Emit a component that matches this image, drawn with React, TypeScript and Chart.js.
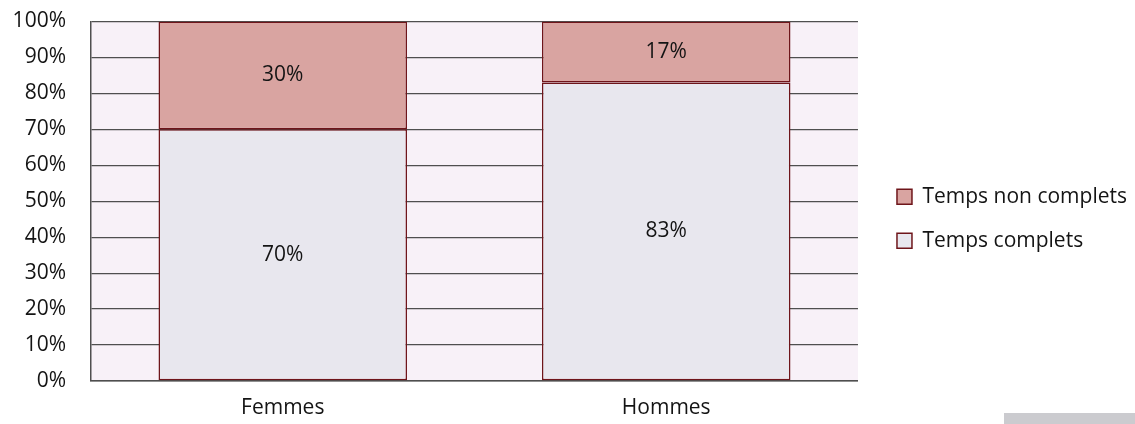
import React, { useEffect, useRef } from "react";
import { Chart, registerables } from "chart.js";

Chart.register(...registerables);

const categories = ["Femmes", "Hommes"];
const tempsComplets = [70, 83];
const tempsNonComplets = [30, 17];
const seriesNames = ["Temps complets", "Temps non complets"];

const FONT = "'Open Sans', 'DejaVu Sans', sans-serif";
const TEXT = "#141414";
const GRID = "#4f4f4f";
const EDGE = "#6e151a";

// light tinted background behind the plot area
const plotBackground = {
  id: "plotBackground",
  beforeDraw(chart: any) {
    const { ctx, chartArea } = chart;
    ctx.save();
    ctx.fillStyle = "#f8f1f8";
    ctx.fillRect(chartArea.left, chartArea.top, chartArea.right - chartArea.left, chartArea.bottom - chartArea.top);
    ctx.restore();
  },
};

// leave a wider gap between the plot and the legend
const legendOffset = {
  id: "legendOffset",
  afterLayout(chart: any) {
    const lg = chart.legend;
    if (!lg) return;
    lg.left += 16;
    lg.right += 16;
    lg.top -= 4;
    lg.bottom -= 4;
  },
};

// percentage written in the middle of every segment
const segmentLabels = {
  id: "segmentLabels",
  afterDatasetsDraw(chart: any) {
    const { ctx } = chart;
    ctx.save();
    ctx.font = `21px ${FONT}`;
    ctx.fillStyle = TEXT;
    ctx.textAlign = "center";
    ctx.textBaseline = "middle";
    chart.data.datasets.forEach((ds: any, i: number) => {
      const meta = chart.getDatasetMeta(i);
      meta.data.forEach((el: any, j: number) => {
        const { x, y, base } = el.getProps(["x", "y", "base"], true);
        ctx.fillText(`${ds.data[j]}%`, x, (y + base) / 2);
      });
    });
    ctx.restore();
  },
};

export default function App() {
  const ref = useRef<HTMLCanvasElement | null>(null);

  useEffect(() => {
    if (!ref.current) return;
    const chart = new Chart(ref.current, {
      type: "bar",
      data: {
        labels: categories,
        datasets: [
          {
            label: seriesNames[0],
            data: tempsComplets,
            backgroundColor: "#e8e7ee",
            borderColor: EDGE,
            borderWidth: 1.5,
            borderSkipped: false,
            categoryPercentage: 1,
            barPercentage: 0.648,
          },
          {
            label: seriesNames[1],
            data: tempsNonComplets,
            backgroundColor: "#d9a4a1",
            borderColor: EDGE,
            borderWidth: 1.5,
            borderSkipped: false,
            categoryPercentage: 1,
            barPercentage: 0.648,
          },
        ],
      },
      options: {
        animation: false,
        responsive: true,
        maintainAspectRatio: false,
        layout: { padding: { top: 21.5, left: 0, right: 14, bottom: 0 } },
        plugins: {
          tooltip: { enabled: false },
          legend: {
            position: "right",
            reverse: true,
            labels: {
              boxWidth: 15,
              boxHeight: 15,
              padding: 23,
              color: TEXT,
              font: { family: FONT, size: 21 },
            },
          },
        },
        scales: {
          x: {
            stacked: true,
            grid: { display: false, drawTicks: false },
            border: { display: true, color: GRID, width: 1.5 },
            ticks: { color: TEXT, font: { family: FONT, size: 21 }, padding: 14 },
            afterFit(scale: any) {
              scale.height = 43;
            },
          },
          y: {
            stacked: true,
            min: 0,
            max: 100,
            ticks: {
              stepSize: 10,
              color: TEXT,
              padding: 25,
              font: { family: FONT, size: 21 },
              callback: (v: any) => `${v}%`,
            },
            grid: { color: GRID, lineWidth: 1.3, drawTicks: false },
            border: { display: true, color: GRID, width: 1.5 },
            afterFit(scale: any) {
              scale.width = 91;
              scale.paddingTop = 0;
              scale.paddingBottom = 0;
            },
          },
        },
      },
      plugins: [plotBackground, legendOffset, segmentLabels],
    });
    return () => chart.destroy();
  }, []);

  return (
    <div style={{ position: "fixed", left: 0, top: 0, width: 1135, height: 424, background: "#fff" }}>
      <canvas ref={ref} />
      <div style={{ position: "absolute", left: 1004, top: 413, width: 131, height: 11, background: "#cbcbcf" }} />
    </div>
  );
}
